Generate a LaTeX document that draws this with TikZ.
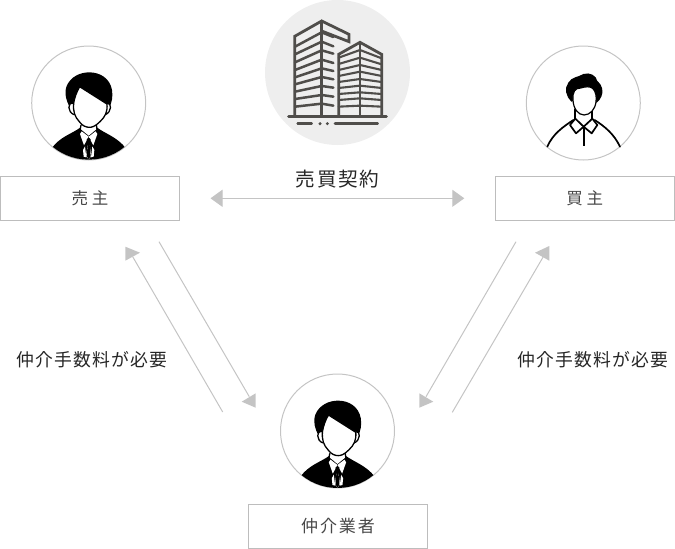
\documentclass[tikz,border=0pt]{standalone}
\usepackage{fontspec}
\usetikzlibrary{arrows.meta}
\newfontfamily\jpa[LetterSpace=22]{Noto Sans CJK JP}
\newfontfamily\jpb[LetterSpace=11]{Noto Sans CJK JP}
\newfontfamily\jpc[LetterSpace=8]{Noto Sans CJK JP}
\newfontfamily\jpd[LetterSpace=7]{Noto Sans CJK JP}
\definecolor{lineg}{HTML}{C4C4C4}
\definecolor{boxg}{HTML}{BDBDBD}
\definecolor{bld}{HTML}{4F4D4A}
\newcommand{\suitman}{%
  \begin{scope}
    \clip (116,99) circle (170);
    \fill[black] (5,235) .. controls (30,200) and (65,192) .. (92,172) -- (140,172)
      .. controls (167,192) and (200,200) .. (228,235) -- (228,290) -- (5,290) -- cycle;
  \end{scope}
  % neck and collar
  \fill[white] (93,150) -- (93,178) -- (116,197) -- (139,178) -- (139,150) -- cycle;
  \draw[black,line width=1.3pt] (93,165) -- (90,182);
  \draw[black,line width=1.3pt] (139,165) -- (142,182);
  \fill[white] (90,192) -- (95,184) -- (116,200) -- (102,226) -- cycle;
  \fill[white] (142,192) -- (137,184) -- (116,200) -- (130,226) -- cycle;
  \fill[white] (99,240) -- (105,229) -- (109,262) -- (101,260) -- cycle;
  \fill[white] (133,240) -- (127,229) -- (123,262) -- (131,260) -- cycle;
  \fill[white] (113,226) -- (119,226) -- (124,258) -- (116,268) -- (108,258) -- cycle;
  \fill[black] (110,208) -- (116,203) -- (122,208) -- (118,222) -- (114,222) -- cycle;
  \fill[black] (113,224) -- (119,224) -- (122,258) -- (116,268) -- (110,258) -- cycle;
  % hair
  \fill[black] (60,112) .. controls (48,92) and (42,70) .. (50,48)
    .. controls (62,20) and (90,7) .. (118,7)
    .. controls (150,7) and (180,25) .. (186,60)
    .. controls (189,80) and (186,96) .. (178,112) -- cycle;
  % ears
  \draw[black,line width=1.3pt,fill=white] (70,100) .. controls (52,96) and (52,126) .. (72,134);
  \draw[black,line width=1.3pt,fill=white] (170,100) .. controls (186,96) and (186,126) .. (166,134);
  % face
  \draw[black,line width=1.3pt,fill=white] (89,50) -- (171,102)
    .. controls (173,125) and (166,140) .. (150,155)
    .. controls (135,170) and (125,172) .. (118,172)
    .. controls (109,172) and (97,168) .. (88,155)
    .. controls (74,140) and (69,125) .. (71,100)
    .. controls (73,85) and (80,65) .. (89,50) -- cycle;
}
\newcommand{\casualman}{%
  \begin{scope}[line width=1.7pt,black,line cap=round,line join=round]
    \draw (22,230) .. controls (38,192) and (70,170) .. (100,150);
    \draw (240,230) .. controls (222,192) and (195,170) .. (164,150);
    \draw[fill=white] (106,146) -- (90,165) -- (108,190) -- (131,170) -- (155,190) -- (172,165) -- (157,146);
    \draw (106,118) -- (106,146);
    \draw (157,118) -- (157,146);
    \draw (106,146) -- (131,170) -- (157,146);
    \draw[line cap=butt,line width=1.8pt] (131,170) -- (131,228);
  \end{scope}
  \fill[black] (94,95) .. controls (78,80) and (72,55) .. (85,38)
    .. controls (95,20) and (115,22) .. (130,12)
    .. controls (150,6) and (168,16) .. (172,33)
    .. controls (186,43) and (192,65) .. (184,80)
    .. controls (180,88) and (176,94) .. (170,98) -- (130,85) -- cycle;
  \draw[black,line width=1.2pt,fill=white] (99,90)
    .. controls (97,65) and (105,54) .. (122,54)
    .. controls (135,50) and (150,48) .. (158,55)
    .. controls (168,65) and (170,80) .. (168,95)
    .. controls (166,118) and (150,135) .. (132,135)
    .. controls (114,135) and (100,115) .. (99,90) -- cycle;
}
\newcommand{\tower}{%
  \begin{scope}[bld,line width=2.8pt,line cap=round,line join=miter]
    % left tower
    \draw (29,303) -- (29,64) -- (110,18) -- (192,58) -- (192,80) -- (110,48);
    \draw (110,18) -- (110,303);
    \foreach \yl/\yc/\yr in {95/52/66,118/80/94,142/106/116,165/134/144,187/160/168,208/186/193,230/213/218,252/240/245,275/266/272}{
      \draw[line width=2.5pt] (30,\yl) -- (110,\yc) -- (145,\yr);
    }
    % right tower
    \draw (161,303) -- (161,118) -- (225,82) -- (290,118) -- (290,303);
    \draw (225,82) -- (225,303);
    \foreach \yl/\yc/\yr in {128/105/130,147/128/148,165/150/165,183/170/183,201/192/201,219/212/219,237/232/237,255/250/255,275/272/275}{
      \draw[line width=2.1pt] (161,\yl) -- (225,\yc) -- (290,\yr);
    }
    % ground
    \draw[line width=3pt] (11,304) -- (304,304);
    \draw[line width=2.6pt] (38,326) -- (80,326);
    \draw[line width=2.6pt] (150,326) -- (278,326);
    \fill (105,326) circle (5);
    \fill (127,326) circle (5);
  \end{scope}
}
\tikzset{
  px/.style={x=1pt,y=-1pt},
  avatar/.style={circle,draw=lineg,line width=1pt,minimum size=114pt,inner sep=0pt},
  rolebox/.style={draw=boxg,line width=1pt,minimum width=179pt,minimum height=44pt,inner sep=0pt,text=black!72},
  conn/.style={draw=lineg,line width=1pt},
  head/.style={fill=lineg,draw=none},
  bothhead/.style={conn,{Triangle[length=12pt,width=17pt]}-{Triangle[length=12pt,width=17pt]},shorten <=30.5pt,shorten >=30.5pt},
  feelabel/.style={text=black!85,inner sep=0pt,font=\jpd\fontsize{17.8}{20}\selectfont},
  icon/.style={x=0.33333pt,y=-0.33333pt}
}
\begin{document}
\begin{tikzpicture}[px]
\useasboundingbox (0,0) rectangle (675,549);
% avatars
\node[avatar] (seller) at (88.7,103) {};
\node[avatar] (buyer) at (583.3,103) {};
\node[avatar] (broker) at (337.5,431) {};
\node[circle,fill=black!6.5,minimum size=145pt,inner sep=0pt] (building) at (337.5,72.5) {};
\begin{scope}[shift={(50,70)},icon]\suitman\end{scope}
\begin{scope}[shift={(298.8,398.3)},icon]\suitman\end{scope}
\begin{scope}[shift={(540,70)},icon]\casualman\end{scope}
\begin{scope}[shift={(285,15)},icon]\tower\end{scope}
% boxes
\node[rolebox,font=\jpa\fontsize{16.5}{20}\selectfont] (sellerbox) at (90,198.3) {売主};
\node[rolebox,font=\jpa\fontsize{16.5}{20}\selectfont] (buyerbox) at (584.8,198.3) {買主};
\node[rolebox,font=\jpb\fontsize{17}{20}\selectfont] (brokerbox) at (338,526.5) {仲介業者};
% labels
\node[text=black!85,inner sep=0pt,font=\jpc\fontsize{19.6}{22}\selectfont] (contract) at (337.5,179) {売買契約};
\node[feelabel] (feeleft) at (92,360) {仲介手数料が必要};
\node[feelabel] (feeright) at (593,360) {仲介手数料が必要};
% contract arrow
\draw[bothhead] (sellerbox.east) -- (buyerbox.west);
% diagonal connectors
\coordinate (a1) at (159,241.7);  \coordinate (a2) at (249.3,396.7);
\coordinate (b1) at (222.7,412);  \coordinate (b2) at (132.7,256.7);
\coordinate (c1) at (516,241.7);  \coordinate (c2) at (426,396.7);
\coordinate (d1) at (452.3,412.3);\coordinate (d2) at (543.3,256.7);
\draw[conn] (a1) -- (a2);
\draw[conn] (b1) -- (b2);
\draw[conn] (c1) -- (c2);
\draw[conn] (d1) -- (d2);
\fill[head] (255.7,393.3) -- (241.7,401.7) -- (255.7,407.7) -- cycle;
\fill[head] (125.3,246.7) -- (140,252.7) -- (125.3,260.7) -- cycle;
\fill[head] (419.3,393.3) -- (433.3,401.7) -- (419.3,407.7) -- cycle;
\fill[head] (549.3,246) -- (535,252.7) -- (549.3,260.7) -- cycle;
\end{tikzpicture}
\end{document}
